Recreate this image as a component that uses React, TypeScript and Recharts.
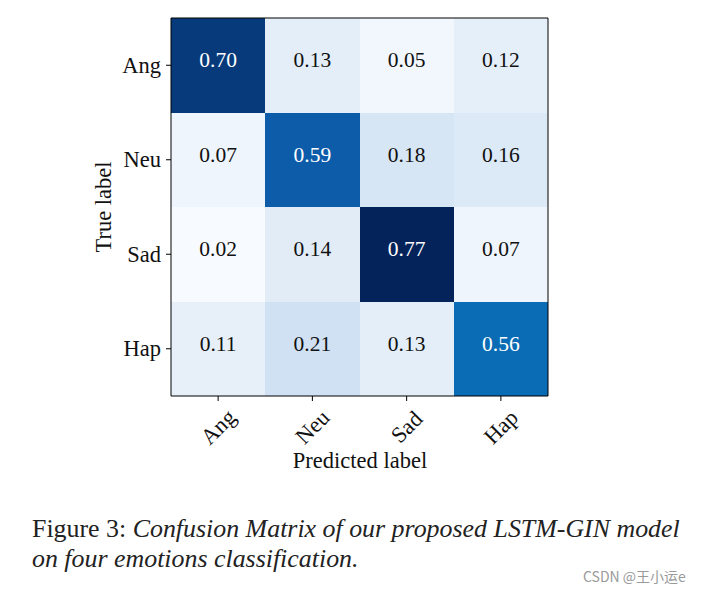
import React from 'react';
import { ScatterChart, Scatter, XAxis, YAxis, ReferenceArea } from 'recharts';

// Confusion matrix values (rows = true label, cols = predicted label)
const labels = ['Ang', 'Neu', 'Sad', 'Hap'];
const rowAng = [0.70, 0.13, 0.05, 0.12];
const rowNeu = [0.07, 0.59, 0.18, 0.16];
const rowSad = [0.02, 0.14, 0.77, 0.07];
const rowHap = [0.11, 0.21, 0.13, 0.56];
const matrix = [rowAng, rowNeu, rowSad, rowHap];

const SERIF = '"Liberation Serif", "Times New Roman", serif';

// Blues-like colour stops (t in 0..1 of min..max)
const COLOR_STOPS: [number, string][] = [
  [0, '#f7fbff'],
  [0.067, '#eef5fc'],
  [0.147, '#e3eef8'],
  [0.253, '#cfe1f2'],
  [0.5, '#6baed6'],
  [0.72, '#0a6cb4'],
  [0.76, '#0c5caa'],
  [0.907, '#073a7b'],
  [1, '#03235a'],
];

const hexToRgb = (h: string) => [1, 3, 5].map((i) => parseInt(h.slice(i, i + 2), 16));

const colorFor = (v: number, vmin: number, vmax: number) => {
  const t = Math.max(0, Math.min(1, (v - vmin) / (vmax - vmin)));
  for (let i = 1; i < COLOR_STOPS.length; i++) {
    const [t1, c1] = COLOR_STOPS[i];
    const [t0, c0] = COLOR_STOPS[i - 1];
    if (t <= t1) {
      const f = (t - t0) / (t1 - t0);
      const a = hexToRgb(c0);
      const b = hexToRgb(c1);
      const rgb = a.map((x, k) => Math.round(x + (b[k] - x) * f));
      return `rgb(${rgb.join(',')})`;
    }
  }
  return COLOR_STOPS[COLOR_STOPS.length - 1][1];
};

const allValues = matrix.flat();
const vmin = Math.min(...allValues);
const vmax = Math.max(...allValues);

const cells = matrix.flatMap((row, r) => row.map((v, c) => ({ x: c, y: r, v })));

const XTick = ({ x, y, payload }: any) => (
  <g>
    <line x1={x} y1={y - 8} x2={x} y2={y - 3} stroke="#000" strokeWidth={1} />
    <text
      x={x}
      y={y + 23}
      textAnchor="middle"
      dominantBaseline="central"
      transform={`rotate(-45, ${x}, ${y + 23})`}
      fontFamily={SERIF}
      fontSize={22.5}
      fill="#111"
    >
      {labels[payload.value]}
    </text>
  </g>
);

const YTick = ({ x, y, payload }: any) => (
  <g>
    <line x1={x + 3} y1={y} x2={x + 8} y2={y} stroke="#000" strokeWidth={1} />
    <text
      x={x - 2}
      y={y}
      textAnchor="end"
      dominantBaseline="central"
      fontFamily={SERIF}
      fontSize={22.5}
      fill="#111"
    >
      {labels[payload.value]}
    </text>
  </g>
);

const CellText = ({ cx, cy, payload }: any) => (
  <text
    x={cx}
    y={cy - 5}
    textAnchor="middle"
    dominantBaseline="central"
    fontFamily={SERIF}
    fontSize={21.5}
    fill={payload.v > 0.45 ? '#fff' : '#111'}
  >
    {payload.v.toFixed(2)}
  </text>
);

const App: React.FC = () => {
  return (
    <div style={{ position: 'absolute', left: 0, top: 0, width: 709, height: 594, background: '#fff' }}>
      <ScatterChart width={709} height={500} margin={{ top: 18, right: 161, bottom: 0, left: 0 }}>
        <XAxis
          type="number"
          dataKey="x"
          domain={[-0.5, 3.5]}
          ticks={[0, 1, 2, 3]}
          axisLine={false}
          tickLine={false}
          tick={<XTick />}
          height={104}
          interval={0}
        />
        <YAxis
          type="number"
          dataKey="y"
          domain={[-0.5, 3.5]}
          ticks={[0, 1, 2, 3]}
          reversed
          axisLine={false}
          tickLine={false}
          tick={<YTick />}
          width={171}
          interval={0}
        />
        {cells.map((d) => (
          <ReferenceArea
            key={`${d.x}-${d.y}`}
            x1={d.x - 0.5}
            x2={d.x + 0.5}
            y1={d.y - 0.5}
            y2={d.y + 0.5}
            fill={colorFor(d.v, vmin, vmax)}
            fillOpacity={1}
            stroke="none"
            shapeRendering="crispEdges"
          />
        ))}
        <ReferenceArea
          x1={-0.5}
          x2={3.5}
          y1={-0.5}
          y2={3.5}
          fill="none"
          fillOpacity={0}
          stroke="#000"
          strokeWidth={1}
        />
        <Scatter data={cells} shape={<CellText />} isAnimationActive={false} />
      </ScatterChart>
      <div
        style={{
          position: 'absolute', left: 94, top: 149, width: 20, height: 116,
          display: 'flex', alignItems: 'center', justifyContent: 'center',
        }}
      >
        <div style={{ transform: 'rotate(-90deg)', whiteSpace: 'nowrap', fontFamily: SERIF, fontSize: 22.5, color: '#111' }}>
          True label
        </div>
      </div>
      <div
        style={{
          position: 'absolute', left: 260, top: 448, width: 200, textAlign: 'center',
          fontFamily: SERIF, fontSize: 22.5, color: '#111', lineHeight: '26px',
        }}
      >
        Predicted label
      </div>
      <div
        style={{
          position: 'absolute', left: 32, top: 514, whiteSpace: 'nowrap',
          fontFamily: SERIF, fontSize: 25.9, lineHeight: '30px', color: '#222',
        }}
      >
        <div>
          Figure 3: <i>Confusion Matrix of our proposed LSTM-GIN model</i>
        </div>
        <div>
          <i>on four emotions classification.</i>
        </div>
      </div>
      <div
        style={{
          position: 'absolute', left: 583, top: 566, fontFamily: '"Noto Sans CJK SC", "Noto Sans", sans-serif',
          fontSize: 14, color: '#9a9a9a', whiteSpace: 'nowrap',
        }}
      >
        CSDN @王小运e
      </div>
    </div>
  );
};

export default App;
